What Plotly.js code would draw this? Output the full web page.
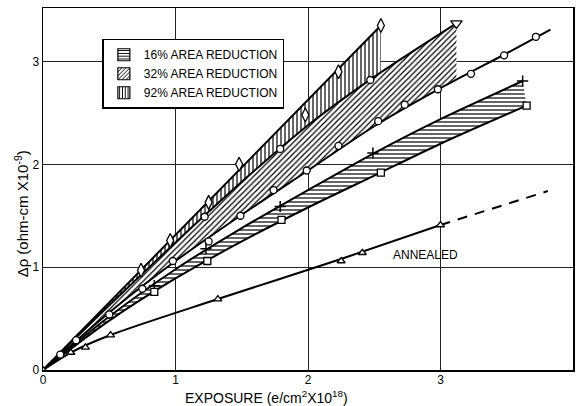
<!DOCTYPE html>
<html><head><meta charset="utf-8">
<script src="https://cdn.plot.ly/plotly-3.0.1.min.js"></script>
<style>html,body{margin:0;padding:0;background:#fff}#chart{width:576px;height:406px}</style>
</head><body><div id="chart"></div>
<script>
// ---- curves ----
const curveA_x = [0, 2.55];                     // 92% upper (diamonds)
const curveA_y = [0, 3.35];
const curveB_x = [0, 0.5, 1.0, 1.5, 2.0, 2.5, 3.12];   // 92% lower / 32% upper
const curveB_y = [0, 0.63, 1.24, 1.83, 2.38, 2.85, 3.37];
const curveC_x = [0, 0.5, 1.0, 1.5, 2.0, 2.5, 3.0, 3.5, 3.83]; // 32% lower (circles)
const curveC_y = [0, 0.56, 1.06, 1.51, 1.94, 2.37, 2.74, 3.08, 3.31];
const curveD_x = [0, 0.5, 1.0, 1.5, 2.0, 2.5, 3.0, 3.62];  // 16% upper (+)
const curveD_y = [0, 0.52, 0.98, 1.38, 1.75, 2.11, 2.44, 2.81];
const curveE_x = [0, 0.5, 1.0, 1.5, 2.0, 2.5, 3.0, 3.65];  // 16% lower (squares)
const curveE_y = [0, 0.48, 0.89, 1.25, 1.58, 1.89, 2.20, 2.57];
const annealed_x = [0, 0.21, 0.51, 1.32, 2.25, 3.0];
const annealed_y = [0, 0.17, 0.34, 0.69, 1.08, 1.41];
const annealedExt_x = [3.0, 3.81];
const annealedExt_y = [1.41, 1.74];

// ---- measured points ----
const diamond_x = [0.74, 0.96, 1.25, 1.48, 1.98, 2.23, 2.55];
const diamond_y = [0.97, 1.26, 1.63, 2.00, 2.48, 2.90, 3.35];
const circB_x = [1.22, 1.79, 2.47];
const circB_y = [1.49, 2.15, 2.82];
const tridown_x = [3.12];
const tridown_y = [3.37];
const circle_x = [0.13, 0.25, 0.50, 0.75, 0.98, 1.25, 1.49, 1.74, 1.99, 2.23, 2.53, 2.73, 2.98, 3.23, 3.48, 3.72];
const circle_y = [0.15, 0.29, 0.54, 0.79, 1.06, 1.25, 1.50, 1.75, 1.94, 2.18, 2.42, 2.58, 2.73, 2.88, 3.06, 3.24];
const plus_x = [0.84, 1.23, 1.79, 2.49, 3.62];
const plus_y = [0.82, 1.18, 1.59, 2.11, 2.81];
const square_x = [0.84, 1.24, 1.80, 2.55, 3.65];
const square_y = [0.76, 1.06, 1.46, 1.92, 2.57];
const tri_x = [0, 0.21, 0.32, 0.51, 1.32, 2.25, 2.41, 3.00];
const tri_y = [0, 0.17, 0.22, 0.34, 0.69, 1.06, 1.14, 1.41];

const legendNames = ['16% AREA REDUCTION', '32% AREA REDUCTION', '92% AREA REDUCTION'];
const legendPatterns = ['-', '/', '|'];
const xTicks = [0, 1, 2, 3, 4];
const yTicks = [0, 1, 2, 3];

function interp(xs, ys, x) {
  for (let i = 1; i < xs.length; i++) {
    if (x <= xs[i]) { const t = (x - xs[i-1]) / (xs[i] - xs[i-1]); return ys[i-1] + t * (ys[i] - ys[i-1]); }
  }
  return ys[ys.length - 1];
}
function clip(xs, ys, xmax) {
  const ox = [], oy = [];
  for (let i = 0; i < xs.length; i++) { if (xs[i] < xmax) { ox.push(xs[i]); oy.push(ys[i]); } }
  ox.push(xmax); oy.push(interp(xs, ys, xmax));
  return [ox, oy];
}
function band(ux, uy, lx, ly) {
  const xmax = ux[ux.length - 1];
  const [cx, cy] = clip(lx, ly, Math.min(xmax, lx[lx.length-1]));
  const px = ux.concat([xmax]).concat(cx.slice().reverse());
  const py = uy.concat([interp(lx, ly, xmax)]).concat(cy.slice().reverse());
  return [px, py];
}

const [b16x, b16y] = [curveD_x.concat(curveE_x.slice().reverse()), curveD_y.concat(curveE_y.slice().reverse())];
const [b32x, b32y] = band(curveB_x, curveB_y, curveC_x, curveC_y);
const [b92x, b92y] = band(curveA_x, curveA_y, curveB_x, curveB_y);

function fillTrace(x, y, shape) {
  return { x, y, type: 'scatter', mode: 'lines', fill: 'toself', fillcolor: 'white',
    line: { width: 0, color: 'rgba(0,0,0,0)' },
    fillpattern: { shape, fgcolor: 'black', bgcolor: 'white', size: 4, solidity: 0.3 },
    hoverinfo: 'skip', showlegend: false };
}
function legendTrace(i) {
  return { x: [null], y: [null], type: 'bar', name: legendNames[i], showlegend: true,
    marker: { color: 'white', line: { color: 'black', width: 1.2 },
      pattern: { shape: legendPatterns[i], fgcolor: 'black', bgcolor: 'white', size: 3.5, solidity: 0.35 } } };
}
function lineTrace(x, y, dash) {
  return { x, y, type: 'scatter', mode: 'lines', showlegend: false,
    line: { color: 'black', width: 2, shape: 'spline', smoothing: 0.8, dash: dash || 'solid' } };
}
function markTrace(x, y, symbol, size) {
  return { x, y, type: 'scatter', mode: 'markers', showlegend: false,
    marker: { symbol, size, color: 'white', line: { color: 'black', width: 1.3 } } };
}

const data = [
  legendTrace(0), legendTrace(1), legendTrace(2),
  fillTrace(b16x, b16y, '-'),
  fillTrace(b32x, b32y, '/'),
  fillTrace(b92x, b92y, '|'),
  lineTrace(curveA_x, curveA_y),
  lineTrace(curveB_x, curveB_y),
  lineTrace(curveC_x, curveC_y),
  lineTrace(curveD_x, curveD_y),
  lineTrace(curveE_x, curveE_y),
  lineTrace(annealed_x, annealed_y),
  lineTrace(annealedExt_x, annealedExt_y, '10px,8px'),
  markTrace(diamond_x, diamond_y, 'diamond-tall', 10),
  markTrace(circB_x, circB_y, 'circle', 7),
  markTrace(tridown_x, tridown_y, 'triangle-down', 10),
  markTrace(circle_x, circle_y, 'circle', 7),
  { x: plus_x, y: plus_y, type: 'scatter', mode: 'markers', showlegend: false,
    marker: { symbol: 'cross-thin', size: 8, color: 'black', line: { color: 'black', width: 1.5 } } },
  markTrace(square_x, square_y, 'square', 7),
  markTrace(tri_x, tri_y, 'triangle-up', 7)
];

const font = 'Liberation Sans, Arial, sans-serif';
const layout = {
  width: 576, height: 406,
  margin: { l: 43, r: 3, t: 8, b: 36 },
  paper_bgcolor: 'white', plot_bgcolor: 'white',
  font: { family: font, color: 'black', size: 12 },
  showlegend: true,
  legend: { x: 0.112, y: 0.915, xanchor: 'left', yanchor: 'top', bgcolor: 'white',
    bordercolor: 'black', borderwidth: 1.5, font: { size: 12, family: font }, itemwidth: 30,
    tracegroupgap: 0, traceorder: 'normal' },
  xaxis: { range: [0, 4], tickvals: xTicks, ticktext: xTicks.map(String), showgrid: true,
    gridcolor: '#222', gridwidth: 1, zeroline: false, showline: true, mirror: true,
    linecolor: 'black', linewidth: 1.5, ticks: '', ticklen: 0, tickfont: { size: 12 },
    ticklabelstandoff: -2 },
  yaxis: { range: [0, 3.52], tickvals: yTicks, ticktext: yTicks.map(String), showgrid: true,
    gridcolor: '#222', gridwidth: 1, zeroline: false, showline: true, mirror: true,
    linecolor: 'black', linewidth: 1.5, ticks: '', ticklen: 0, tickfont: { size: 12 } },
  annotations: [
    { text: 'EXPOSURE (e/cm<sup>2</sup>X10<sup>18</sup>)', xref: 'paper', yref: 'paper',
      x: 0.421, y: -0.074, xanchor: 'center', yanchor: 'middle', showarrow: false,
      font: { size: 14, family: font } },
    { text: 'Δρ (ohm-cm X10<sup>-9</sup>)', xref: 'paper', yref: 'paper',
      x: -0.0415, y: 0.43, xanchor: 'center', yanchor: 'middle', textangle: -90, showarrow: false,
      font: { size: 15, family: font } },
    { text: 'ANNEALED', xref: 'x', yref: 'y', x: 2.89, y: 1.12, showarrow: false,
      font: { size: 12, family: font } }
  ]
};
Plotly.newPlot('chart', data, layout, { displayModeBar: false, staticPlot: true });
</script>
</body></html>
